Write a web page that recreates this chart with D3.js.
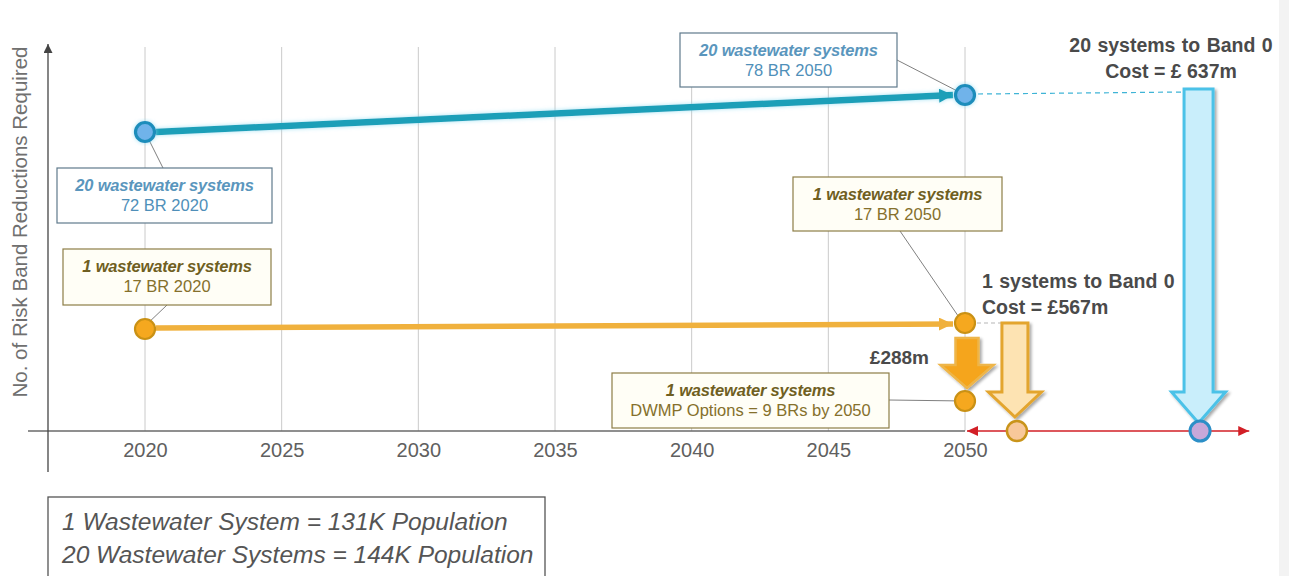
<!DOCTYPE html>
<html>
<head>
<meta charset="utf-8">
<script src="https://cdn.jsdelivr.net/npm/d3@7"></script>
<style>
  body { margin: 0; background: #fff; }
  svg { display: block; font-family: "Liberation Sans", Arial, sans-serif; }
</style>
</head>
<body>
<svg id="chart" width="1289" height="576"></svg>
<script>
// ---- data ----
const tickYears = [2020, 2025, 2030, 2035, 2040, 2045, 2050];
const tickLabels = ["2020", "2025", "2030", "2035", "2040", "2045", "2050"];

// Risk band reductions required (BR) for each group of wastewater systems
const blueYears = [2020, 2050];
const blueBR = [72, 78];
const orangeYears = [2020, 2050];
const orangeBR = [17, 17];
const dwmpYear = 2050;
const dwmpBR = 9;

// "Band 0" outcome columns, placed past 2050 on the time axis
const band0Names = ["1 systems", "20 systems"];
const band0Pos = [2051.9, 2058.6];
const band0Cost = ["£567m", "£ 637m"];
const dwmpCost = "£288m";

const calloutTitles = ["20 wastewater systems", "1 wastewater systems", "20 wastewater systems", "1 wastewater systems", "1 wastewater systems"];
const calloutValues = ["72 BR 2020", "17 BR 2020", "78 BR 2050", "17 BR 2050", "DWMP Options = 9 BRs by 2050"];

const populationNotes = ["1 Wastewater System = 131K Population", "20 Wastewater Systems = 144K Population"];
const yAxisTitle = "No. of Risk Band Reductions Required";

// ---- scales ----
const svg = d3.select("#chart");
const x = d3.scaleLinear().domain([2020, 2050]).range([145, 965]);
// schematic (piecewise) vertical scale
const y = d3.scaleLinear().domain([0, 9, 17, 72, 78]).range([431, 401, 326, 132, 95]);

const defs = svg.append("defs");
const glow = defs.append("filter").attr("id", "glow").attr("x", "-20%").attr("y", "-20%").attr("width", "140%").attr("height", "140%");
glow.append("feGaussianBlur").attr("in", "SourceAlpha").attr("stdDeviation", 2).attr("result", "b");
glow.append("feFlood").attr("flood-color", "#7fd6f0").attr("flood-opacity", 0.7);
glow.append("feComposite").attr("in2", "b").attr("operator", "in").attr("result", "g");
const gm = glow.append("feMerge");
gm.append("feMergeNode").attr("in", "g");
gm.append("feMergeNode").attr("in", "SourceGraphic");

const shadow = defs.append("filter").attr("id", "shadow").attr("x", "-30%").attr("y", "-10%").attr("width", "160%").attr("height", "130%");
shadow.append("feGaussianBlur").attr("in", "SourceAlpha").attr("stdDeviation", 1.6).attr("result", "b");
shadow.append("feOffset").attr("in", "b").attr("dx", 1.5).attr("dy", 1.5).attr("result", "o");
shadow.append("feComponentTransfer").attr("in", "o").attr("result", "s")
  .append("feFuncA").attr("type", "linear").attr("slope", 0.35);
const sm = shadow.append("feMerge");
sm.append("feMergeNode").attr("in", "s");
sm.append("feMergeNode").attr("in", "SourceGraphic");

function headMarker(id, color, w, h) {
  defs.append("marker").attr("id", id)
    .attr("viewBox", `0 0 ${w} ${h}`).attr("refX", w).attr("refY", h / 2)
    .attr("markerWidth", w).attr("markerHeight", h).attr("markerUnits", "userSpaceOnUse")
    .attr("orient", "auto-start-reverse")
    .append("path").attr("d", `M0,0L${w},${h / 2}L0,${h}Z`).attr("fill", color);
}
headMarker("mBlue", "#1a9fb8", 14, 14);
headMarker("mOrange", "#f0b13d", 14, 13);
headMarker("mRed", "#d21f26", 11, 10);
headMarker("mAxis", "#444", 9, 9);

// right page edge
svg.append("rect").attr("x", 1279).attr("y", 0).attr("width", 10).attr("height", 576).attr("fill", "#f3f3f3");

// ---- grid ----
const y0 = y(0);
svg.append("g").selectAll("line").data(tickYears).join("line")
  .attr("x1", d => x(d)).attr("x2", d => x(d))
  .attr("y1", 47).attr("y2", y0)
  .attr("stroke", "#cacaca").attr("stroke-width", 1);

// ---- axes ----
const xAxis = d3.axisBottom(x).tickValues(tickYears).tickFormat((d, i) => tickLabels[i]).tickSize(0).tickPadding(12);
const gx = svg.append("g").attr("transform", `translate(0,${y0})`).call(xAxis);
gx.select(".domain").remove();
gx.selectAll("text").attr("font-size", 20).attr("fill", "#606060").attr("font-family", "Liberation Sans, Arial, sans-serif");

svg.append("line").attr("x1", 28).attr("x2", x(2050)).attr("y1", y0).attr("y2", y0)
  .attr("stroke", "#6a6a6a").attr("stroke-width", 1.5);
svg.append("line").attr("x1", 48).attr("x2", 48).attr("y1", 472).attr("y2", 44)
  .attr("stroke", "#444").attr("stroke-width", 1.3).attr("marker-end", "url(#mAxis)");

svg.append("text").attr("transform", "translate(27,222) rotate(-90)")
  .attr("text-anchor", "middle").attr("font-size", 20.5).attr("fill", "#707070").text(yAxisTitle);

// ---- callouts (leader lines first, boxes on top) ----
const callouts = [
  { px: x(blueYears[0]), py: y(blueBR[0]), bx: 57, by: 168, bw: 215, bh: 55, lx: 163, ly: 168, theme: "blue" },
  { px: x(orangeYears[0]), py: y(orangeBR[0]), bx: 63, by: 249, bw: 208, bh: 56, lx: 167, ly: 305, theme: "orange" },
  { px: x(blueYears[1]), py: y(blueBR[1]), bx: 680, by: 33, bw: 217, bh: 54, lx: 897, ly: 60, theme: "blue" },
  { px: x(orangeYears[1]), py: y(orangeBR[1]), bx: 793, by: 177, bw: 209, bh: 54, lx: 900, ly: 231, theme: "orange" },
  { px: x(dwmpYear), py: y(dwmpBR), bx: 612, by: 373, bw: 277, bh: 55, lx: 889, ly: 400, theme: "orange" }
];
const themes = {
  blue: { stroke: "#5f7a8c", fill: "#ffffff", title: "#5a96bd", value: "#4f8fb9" },
  orange: { stroke: "#8d7d47", fill: "#fffef6", title: "#6f5f22", value: "#85702c" }
};
callouts.forEach(c => {
  svg.append("line").attr("x1", c.lx).attr("y1", c.ly).attr("x2", c.px).attr("y2", c.py)
    .attr("stroke", "#808080").attr("stroke-width", 1);
});

// ---- series lines ----
svg.append("line")
  .attr("x1", x(blueYears[0]) + 11).attr("y1", y(blueBR[0]))
  .attr("x2", x(blueYears[1]) - 12).attr("y2", y(blueBR[1]))
  .attr("stroke", "#1a9fb8").attr("stroke-width", 6.5).attr("marker-end", "url(#mBlue)")
  .attr("filter", "url(#glow)");
svg.append("line")
  .attr("x1", x(orangeYears[0]) + 11).attr("y1", y(orangeBR[0]) + 2)
  .attr("x2", x(orangeYears[1]) - 12).attr("y2", y(orangeBR[1]) - 2)
  .attr("stroke", "#f0b13d").attr("stroke-width", 5.5).attr("marker-end", "url(#mOrange)");

// dashed connectors to the Band 0 arrows
svg.append("line").attr("x1", x(blueYears[1]) + 13).attr("x2", x(band0Pos[1]) - 14)
  .attr("y1", y(blueBR[1]) - 1).attr("y2", y(blueBR[1]) - 3)
  .attr("stroke", "#3fb4d6").attr("stroke-width", 1.2).attr("stroke-dasharray", "5,4");
svg.append("line").attr("x1", x(orangeYears[1]) + 12).attr("x2", x(band0Pos[0]) - 13)
  .attr("y1", y(orangeBR[1]) - 3).attr("y2", y(orangeBR[1]) - 3)
  .attr("stroke", "#b5b5b5").attr("stroke-width", 1.2).attr("stroke-dasharray", "4,3");

// ---- block arrows ----
function blockArrow(cx, top, headStart, tip, shaftW, headW) {
  const s = shaftW / 2, h = headW / 2;
  return `M${cx - s},${top}L${cx + s},${top}L${cx + s},${headStart}L${cx + h},${headStart}` +
         `L${cx},${tip}L${cx - h},${headStart}L${cx - s},${headStart}Z`;
}
// 20 systems to band 0
svg.append("path")
  .attr("d", blockArrow(x(band0Pos[1]) - 1.5, y(blueBR[1]) - 6, y(0) - 39, y(0) - 8, 29, 54))
  .attr("fill", "#c9eefb").attr("stroke", "#4cc2e8").attr("stroke-width", 3)
  .attr("stroke-linejoin", "miter").attr("filter", "url(#shadow)");
// 1 system to band 0
svg.append("path")
  .attr("d", blockArrow(x(band0Pos[0]) - 2, y(orangeBR[1]) - 3, y(0) - 39, y(0) - 14, 26, 53))
  .attr("fill", "#fde3b2").attr("stroke", "#e3a52e").attr("stroke-width", 3)
  .attr("stroke-linejoin", "miter").attr("filter", "url(#shadow)");
// DWMP options step
svg.append("path")
  .attr("d", blockArrow(x(dwmpYear) + 2, y(orangeBR[1]) + 12, y(dwmpBR) - 36, y(dwmpBR) - 13, 23, 53))
  .attr("fill", "#f5a51a").attr("stroke", "#eeb548").attr("stroke-width", 2.5)
  .attr("stroke-linejoin", "miter").attr("filter", "url(#shadow)");

// red band-0 range
svg.append("line").attr("x1", x(2050) + 2).attr("x2", x(2060.4)).attr("y1", y0).attr("y2", y0)
  .attr("stroke", "#d21f26").attr("stroke-width", 1.5)
  .attr("marker-start", "url(#mRed)").attr("marker-end", "url(#mRed)");

// ---- points ----
const bluePts = blueYears.map((d, i) => ({ x: d, v: blueBR[i] }));
svg.append("g").selectAll("circle").data(bluePts).join("circle")
  .attr("cx", d => x(d.x)).attr("cy", d => y(d.v)).attr("r", 9.5)
  .attr("fill", "#6fb3ea").attr("stroke", "#1e8dbb").attr("stroke-width", 3.2)
  .attr("filter", "url(#glow)");
const orangePts = orangeYears.map((d, i) => ({ x: d, v: orangeBR[i] })).concat([{ x: dwmpYear, v: dwmpBR }]);
svg.append("g").selectAll("circle").data(orangePts).join("circle")
  .attr("cx", d => x(d.x)).attr("cy", (d, i) => y(d.v) + (i === 0 ? 3 : i === 1 ? -3 : 0)).attr("r", 10)
  .attr("fill", "#f5a81f").attr("stroke", "#c99115").attr("stroke-width", 2.2);

// band 0 end points
svg.append("circle").attr("cx", x(band0Pos[0])).attr("cy", y0).attr("r", 10)
  .attr("fill", "#f8c89a").attr("stroke", "#c9941a").attr("stroke-width", 2.5);
svg.append("circle").attr("cx", x(band0Pos[1])).attr("cy", y0).attr("r", 10)
  .attr("fill", "#c7a8d9").attr("stroke", "#2c8fc7").attr("stroke-width", 3);

// ---- callout boxes ----
callouts.forEach((c, i) => {
  const t = themes[c.theme];
  svg.append("rect").attr("x", c.bx).attr("y", c.by).attr("width", c.bw).attr("height", c.bh)
    .attr("fill", t.fill).attr("stroke", t.stroke).attr("stroke-width", 1.2);
  const cx = c.bx + c.bw / 2;
  svg.append("text").attr("x", cx).attr("y", c.by + 23).attr("text-anchor", "middle")
    .attr("font-size", 16.5).attr("font-weight", "bold").attr("font-style", "italic")
    .attr("fill", t.title).attr("letter-spacing", -0.2).text(calloutTitles[i]);
  svg.append("text").attr("x", cx).attr("y", c.by + 43).attr("text-anchor", "middle")
    .attr("font-size", 16.5).attr("fill", t.value).text(calloutValues[i]);
});

// ---- cost annotations ----
const note = (tx, ty, anchor, size, str) =>
  svg.append("text").attr("x", tx).attr("y", ty).attr("text-anchor", anchor)
    .attr("font-size", size).attr("font-weight", "bold").attr("fill", "#4a4a4a").text(str);
note(1171, 52, "middle", 19.5, `${band0Names[1]} to Band 0`).attr("word-spacing", 1);
note(1171, 78, "middle", 19.5, `Cost = ${band0Cost[1]}`);
note(982, 288, "start", 19.5, `${band0Names[0]} to Band 0`).attr("word-spacing", 1);
note(982, 314, "start", 19.5, `Cost = ${band0Cost[0]}`);
note(929, 364, "end", 19, dwmpCost);

// ---- population note ----
svg.append("rect").attr("x", 48).attr("y", 497).attr("width", 497).attr("height", 80)
  .attr("fill", "#fff").attr("stroke", "#555").attr("stroke-width", 1.3);
populationNotes.forEach((s, i) => {
  svg.append("text").attr("x", 62).attr("y", 530 + i * 33)
    .attr("font-size", 24.5).attr("font-style", "italic").attr("fill", "#555").text(s);
});
</script>
</body>
</html>
